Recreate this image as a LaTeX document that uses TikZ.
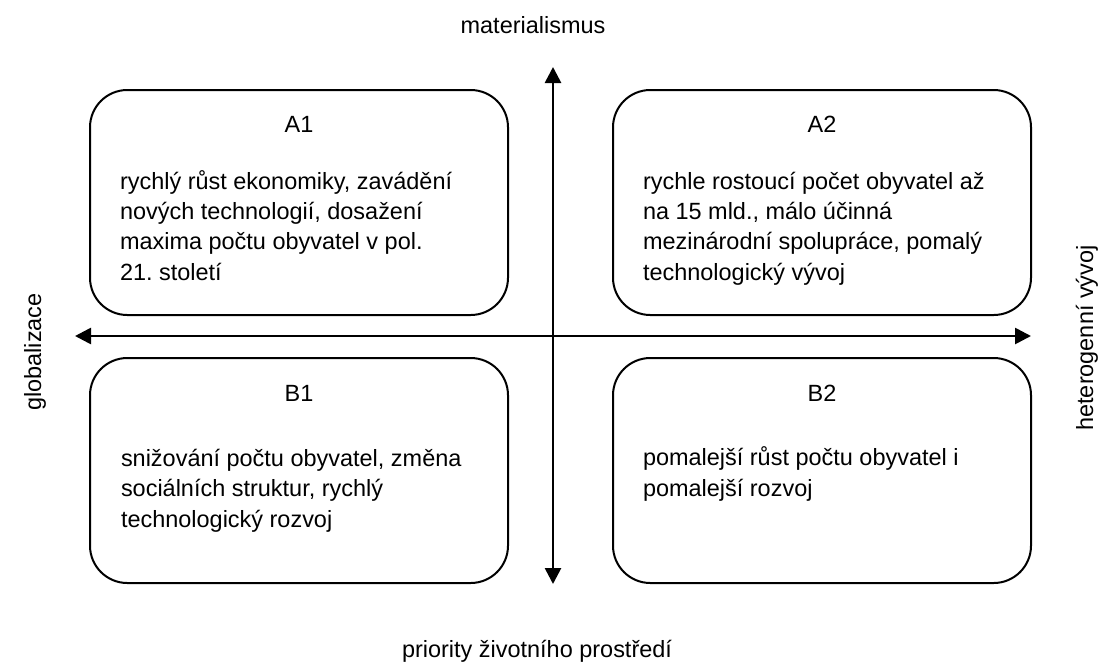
\documentclass[tikz,border=0pt]{standalone}
\usepackage{fontspec}
\setmainfont{Liberation Sans}
\usetikzlibrary{arrows.meta}
\frenchspacing
\begin{document}
\begin{tikzpicture}[x=0.75pt,y=-0.75pt,
  every node/.style={inner sep=0pt,outer sep=0pt,font=\fontsize{17.6}{22.7}\selectfont},
  quad/.style={draw=black,line width=1.5pt,rounded corners=28pt,minimum width=313.5pt,minimum height=168.75pt},
  axis/.style={line width=2pt,{Triangle[length=12pt,width=12pt]}-{Triangle[length=12pt,width=12pt]}},
  body/.style={align=left,anchor=base west},
  head/.style={anchor=base},
  lab/.style={anchor=base}]
\useasboundingbox (0,0) rectangle (1102,664);
% boxes
\node[quad] (A1) at (299,202.5) {};
\node[quad] (A2) at (822,202.5) {};
\node[quad] (B1) at (299,470.5) {};
\node[quad] (B2) at (822,470.5) {};
% axes
\coordinate (top) at (553,67);
\coordinate (bot) at (553,584);
\coordinate (lft) at (75,336);
\coordinate (rgt) at (1031,336);
\draw[axis] (top) -- (bot);
\draw[axis] (lft) -- (rgt);
% headings
\node[head] (hA1) at (299,132) {A1};
\node[head] (hA2) at (822,132) {A2};
\node[head] (hB1) at (299,401) {B1};
\node[head] (hB2) at (822,401) {B2};
% bodies (anchor = baseline of last line)
\node[body] (tA1) at (120,280) {rychlý růst ekonomiky, zavádění\\nových technologií, dosažení\\maxima počtu obyvatel v pol.\\21. století};
\node[body] (tA2) at (643,280) {rychle rostoucí počet obyvatel až\\na 15 mld., málo účinná\\mezinárodní spolupráce, pomalý\\technologický vývoj};
\node[body] (tB1) at (121,527) {snižování počtu obyvatel, změna\\sociálních struktur, rychlý\\technologický rozvoj};
\node[body] (tB2) at (643,496) {pomalejší růst počtu obyvatel i\\pomalejší rozvoj};
% axis labels
\node[lab] (lm) at (533,33) {materialismus};
\node[lab] (lp) at (537,657) {priority životního prostředí};
\node[lab,rotate=90] (lg) at (41,352) {globalizace};
\node[lab,rotate=90] (lh) at (1093,338) {heterogenní vývoj};
\end{tikzpicture}
\end{document}
